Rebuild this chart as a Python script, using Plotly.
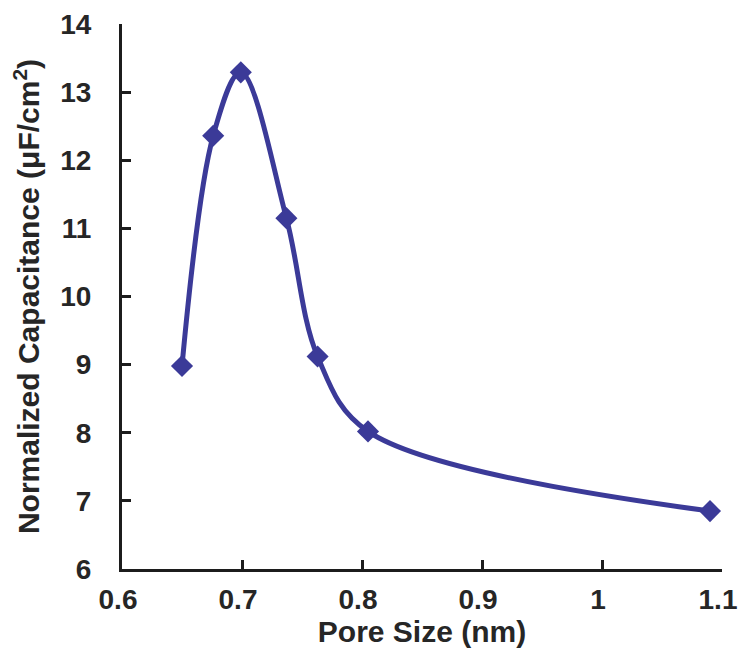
import plotly.graph_objects as go

# Pore size (nm) vs. normalized capacitance (µF/cm²)
pore_size = [0.65, 0.676, 0.699, 0.737, 0.763, 0.805, 1.09]
capacitance = [8.98, 12.36, 13.29, 11.15, 9.12, 8.02, 6.85]

x_ticks = [0.6, 0.7, 0.8, 0.9, 1.0, 1.1]
x_tick_text = ["0.6", "0.7", "0.8", "0.9", "1", "1.1"]
y_ticks = [6, 7, 8, 9, 10, 11, 12, 13, 14]

line_color = "#3b3a98"
text_color = "#262626"
axis_color = "#1c1c1c"
font_family = "Liberation Sans, Arial, sans-serif"

fig = go.Figure(
    go.Scatter(
        x=pore_size,
        y=capacitance,
        mode="lines+markers",
        line=dict(color=line_color, width=5, shape="spline", smoothing=1.0),
        marker=dict(symbol="diamond", size=17, color=line_color),
        cliponaxis=False,
    )
)

axis_common = dict(
    showline=True,
    linecolor=axis_color,
    linewidth=3,
    mirror=False,
    showgrid=False,
    zeroline=False,
    ticks="inside",
    ticklen=9,
    tickwidth=2.5,
    tickcolor=axis_color,
    ticklabeloverflow="allow",
    automargin=False,
    tickfont=dict(family=font_family, size=28, color=text_color, weight="bold"),
)

fig.update_xaxes(
    range=[0.6, 1.1],
    tickvals=x_ticks,
    ticktext=x_tick_text,
    ticklabelstandoff=3,
    ticklabelshift=-4,
    title=dict(
        text="Pore Size (nm)",
        font=dict(family=font_family, size=30, color=text_color, weight="bold"),
        standoff=8,
    ),
    **axis_common,
)
fig.update_yaxes(
    range=[6, 14],
    tickvals=y_ticks,
    ticklabelstandoff=22,
    title=dict(
        text="Normalized Capacitance (μF/cm<sup>2</sup>)",
        font=dict(family=font_family, size=30, color=text_color, weight="bold"),
        standoff=12,
    ),
    **axis_common,
)

fig.update_layout(
    width=740,
    height=655,
    margin=dict(l=122, r=18, t=24, b=86),
    paper_bgcolor="white",
    plot_bgcolor="white",
    showlegend=False,
)

fig.write_html("out.html")
